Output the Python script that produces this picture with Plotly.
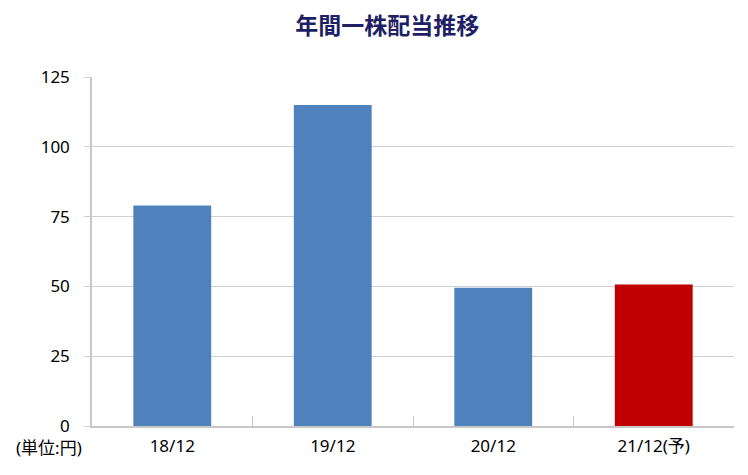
import plotly.graph_objects as go

categories = ["18/12", "19/12", "20/12", "21/12(予)"]
dividends = [79, 115, 49.5, 50.7]
bar_colors = ["#4F81BD", "#4F81BD", "#4F81BD", "#C00000"]
y_ticks = [0, 25, 50, 75, 100, 125]

jp_font = "Noto Sans, Noto Sans CJK JP"

fig = go.Figure()
fig.add_trace(go.Bar(x=categories, y=dividends, marker=dict(color=bar_colors, line=dict(width=0)),
                     showlegend=False))

# page body has an 8px margin, so margins are shifted to compensate
fig.update_layout(
    width=748, height=475,
    margin=dict(l=84, r=22, t=69, b=57),
    paper_bgcolor="white", plot_bgcolor="white",
    bargap=0.515,
    font=dict(family=jp_font, size=17, color="#000000"),
    title=dict(text="<b>年間一株配当推移</b>", x=0.507, xanchor="center", y=0.962, yanchor="middle",
               font=dict(family="Noto Sans CJK JP", size=23, color="#1F1F66")),
)
fig.update_xaxes(showline=True, linecolor="#C8C8C8", linewidth=1.5, ticks="inside", tickson="boundaries",
                 ticklen=10, tickcolor="#C8C8C8", showgrid=False, ticklabelstandoff=4)
fig.update_yaxes(range=[0, 125], tickvals=y_ticks, showline=True, linecolor="#C8C8C8", linewidth=1.5,
                 gridcolor="#D0D0D0", gridwidth=1.2, ticks="outside", ticklen=6, tickcolor="#D0D0D0",
                 zeroline=False, ticklabelstandoff=11)

fig.add_annotation(text="(単位:円)", x=0, y=0, xref="paper", yref="paper", xanchor="right", yanchor="middle",
                   xshift=-8, yshift=-21, showarrow=False,
                   font=dict(family=jp_font, size=17, color="#000000"))

fig.write_html("out.html")
